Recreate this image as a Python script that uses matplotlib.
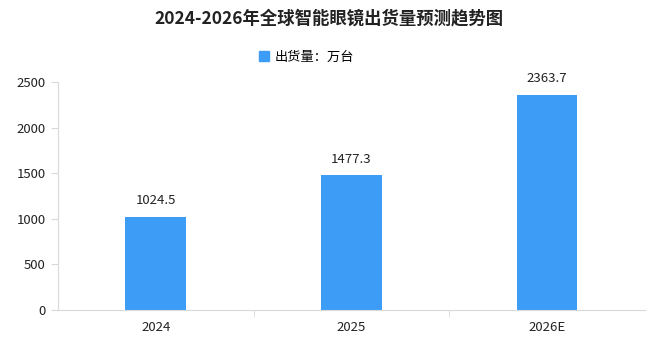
import numpy as np
import matplotlib.pyplot as plt
from matplotlib.patches import Patch

plt.rcParams['font.family'] = ['Noto Sans CJK SC', 'DejaVu Sans']

years = ['2024', '2025', '2026E']
shipments = [1024.5, 1477.3, 2363.7]
bar_color = '#3d9cf5'
axis_gray = '#d9d9d9'

fig = plt.figure(figsize=(6.62, 3.42), dpi=100)
ax = fig.add_axes([0.0876, 0.0936, 0.8864, 0.6664])

x = np.arange(len(years))
ax.bar(x, shipments, width=0.31, color=bar_color, zorder=2)
for xi, v in zip(x, shipments):
    ax.text(xi, v + 100, '%.1f' % v, ha='center', va='bottom', fontsize=9.5, color='#222222')

ax.set_xlim(-0.5, len(years) - 0.5)
ax.set_ylim(0, 2500)
ax.set_yticks(np.arange(0, 2501, 500))
ax.set_xticks(x)
ax.set_xticklabels(years)
ax.set_xticks(np.arange(0.5, len(years) - 0.5, 1), minor=True)
ax.tick_params(axis='x', which='major', length=0, pad=8, labelsize=9.5, labelcolor='#222222')
ax.tick_params(axis='x', which='minor', length=5, color=axis_gray)
ax.tick_params(axis='y', length=5, color=axis_gray, labelsize=9.5, labelcolor='#222222', pad=4)

for s in ['top', 'right']:
    ax.spines[s].set_visible(False)
for s in ['left', 'bottom']:
    ax.spines[s].set_color(axis_gray)

fig.text(0.497, 0.945, '2024-2026年全球智能眼镜出货量预测趋势图', ha='center', va='center',
         fontsize=12.5, fontweight='bold', color='#222222')
fig.legend(handles=[Patch(color=bar_color, label='出货量：万台')], loc='center',
           bbox_to_anchor=(0.463, 0.833), frameon=False, fontsize=9.5,
           handlelength=0.8, handleheight=0.8, handletextpad=0.4)

fig.savefig('out.png', dpi=100)
